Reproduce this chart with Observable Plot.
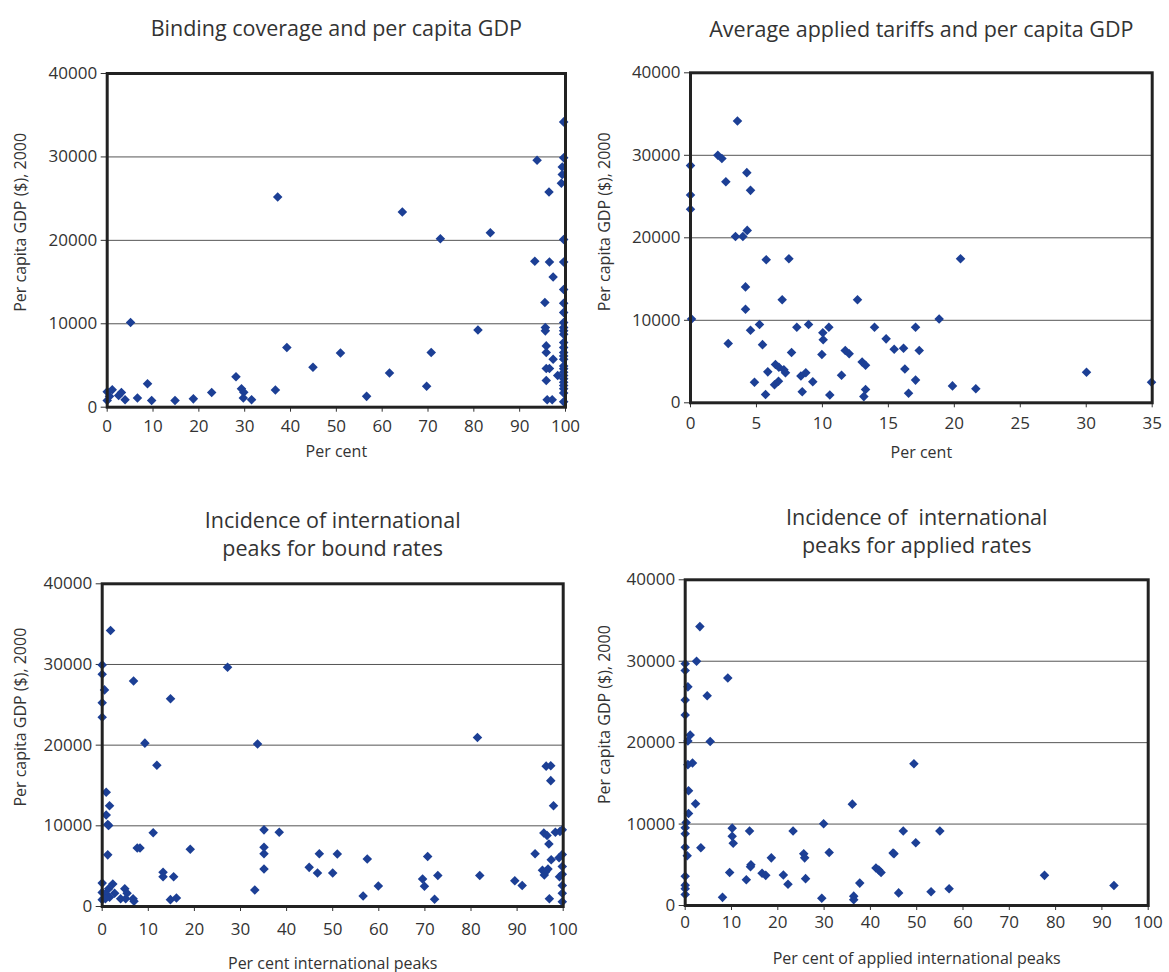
<!DOCTYPE html>
<html><head><meta charset="utf-8">
<script src="https://cdn.jsdelivr.net/npm/d3@7"></script>
<script src="https://cdn.jsdelivr.net/npm/@observablehq/plot@0.6"></script>
<style>
body{margin:0;background:#fff;}
#wrap{position:relative;width:1169px;height:972px;font-family:"Open Sans",sans-serif;}
.panel{position:absolute;}
</style></head><body><div id="wrap"></div>
<script>
// Panel 1: Binding coverage (%) vs per capita GDP
const bindX = [99.6,93.8,99.6,99.3,99.3,99.1,96.4,37.2,64.4,72.7,83.6,99.6,93.3,96.5,99.6,97.3,99.6,95.5,99.6,99.6,5.1,99.6,95.6,95.6,99.6,99.6,80.9,99.6,99.6,39.2,99.6,50.9,70.7,95.8,95.8,99.6,99.6,97.3,99.6,44.9,95.8,96.5,99.6,99.6,61.6,99.6,28.1,98.3,99.6,95.8,99.6,69.7,99.6,8.8,36.7,99.6,22.8,29.3,29.8,99.6,29.7,31.5,56.6,18.8,14.8,9.7,6.6,3.9,3.1,1.1,0,0,96.0,97.1,99.6,99.6,0.5,2.5];
const bindY = [34200,29600,29900,28800,27900,26850,25800,25200,23400,20200,20900,20100,17500,17400,17400,15600,14100,12550,12450,11350,10150,10150,9550,9150,9550,9150,9250,8750,7750,7150,7150,6500,6550,7350,6550,6550,6150,5750,5750,4800,4650,4650,4950,4600,4100,4200,3650,3800,3800,3200,3400,2500,3000,2800,2050,2600,1750,2200,1800,2200,1100,900,1300,1000,800,800,1100,900,1750,2100,1850,800,900,900,650,1700,1300,1400];

// Panel 2: Average applied tariffs (%) vs per capita GDP
const tariffX = [3.56,2.07,2.38,0,4.27,2.68,4.55,0,0,3.41,3.97,4.30,5.74,7.46,20.47,4.17,6.95,12.66,4.17,0.08,18.85,5.23,4.55,8.06,8.95,10.03,10.49,10.06,13.95,17.06,14.83,2.86,5.46,7.66,9.96,11.73,12.03,15.44,16.15,17.34,13.01,13.27,6.44,6.70,7.08,7.20,5.86,16.25,11.45,30.02,8.37,8.74,4.85,6.37,6.67,9.27,17.06,19.86,21.63,34.95,8.47,5.69,10.56,13.27,13.14,16.53];
const tariffY = [34150,30000,29600,28750,27900,26800,25750,25200,23450,20150,20150,20900,17350,17450,17450,14050,12500,12500,11350,10150,10150,9500,8800,9150,9500,8500,9150,7650,9150,9150,7750,7200,7050,6100,5850,6350,5950,6500,6600,6350,4950,4550,4650,4300,4000,3650,3750,4100,3350,3700,3250,3650,2500,2200,2600,2550,2750,2050,1700,2500,1350,1000,950,1600,750,1150];

// Panel 3: Incidence of international peaks for bound rates
const boundPeakX = [1.81,0,0,6.80,0.5,0,14.82,0,27.19,9.26,33.7,81.4,11.86,96.3,97.3,97.3,97.9,0.87,1.59,0.87,1.2,1.4,11.06,35.1,38.4,95.8,96.5,96.9,98.3,99.3,99.8,7.6,8.2,19.1,35.1,35.1,1.2,47.1,51.0,57.5,70.6,93.9,97.4,99.1,99.8,35.1,44.9,46.7,50.0,13.2,13.2,15.5,72.8,81.9,69.5,69.9,89.5,91.1,95.5,95.9,96.7,96.2,99.2,99.8,99.8,99.8,99.8,99.8,97.0,33.1,59.9,56.6,72.1,14.8,16.1,0,0,0,0.7,1.4,2.3,1.6,2.7,4.0,4.9,5.4,5.1,6.7,6.9,0.7];
const boundPeakY = [34200,29950,28800,27950,26850,25250,25750,23450,29650,20250,20150,20950,17500,17400,17450,15600,12500,14150,12500,11350,10150,10050,9150,9500,9200,9100,8800,7750,9200,9300,9500,7250,7250,7100,7350,6550,6400,6550,6500,5900,6200,6550,5800,6050,6450,4650,4850,4150,4150,4250,3700,3700,3850,3850,3400,2500,3200,2600,4500,3900,4650,4300,3700,4000,4950,2600,1650,600,950,2050,2550,1300,900,850,1050,2900,850,1750,1550,2200,2800,1150,1650,950,2200,1650,950,950,650,950];

// Panel 4: Incidence of international peaks for applied rates
const appliedPeakX = [3.17,0,0,2.45,9.2,0.58,4.75,0,0,1.08,0.58,5.4,0.58,1.58,49.4,0.72,2.23,36.1,0.72,0.2,29.9,0,0,10.15,10.15,10.37,13.9,23.3,47.1,55.0,49.8,0,3.38,0.43,31.1,44.9,45.1,25.6,25.8,18.6,14.2,14.1,41.2,41.8,42.3,9.6,16.6,17.4,21.2,77.6,13.2,26.0,22.2,37.7,92.6,57.0,53.1,46.1,0,0,0,0,8.06,29.5,36.4,36.4];
const appliedPeakY = [34250,29700,28850,30000,27950,26850,25750,25250,23400,20950,20200,20150,17300,17500,17400,14100,12500,12450,11300,10200,10050,9550,8800,9500,8500,7650,9150,9150,9150,9150,7700,7150,7100,6100,6500,6450,6350,6350,5850,5850,5000,4750,4600,4350,4050,4050,3950,3700,3750,3700,3150,3300,2600,2750,2450,2050,1700,1550,3600,2500,2050,1350,1000,900,1150,700];

const yTicks = [0, 10000, 20000, 30000, 40000];
const xTicks100 = [0, 10, 20, 30, 40, 50, 60, 70, 80, 90, 100];
const xTicks35 = [0, 5, 10, 15, 20, 25, 30, 35];
const titles = [
  "Binding coverage and per capita GDP",
  "Average applied tariffs and per capita GDP",
  "Incidence of international\npeaks for bound rates",
  "Incidence of  international\npeaks for applied rates"
];
const xLabels = ["Per cent", "Per cent", "Per cent international peaks", "Per cent of applied international peaks"];
const yLabel = "Per capita GDP ($), 2000";

const FONT = '"Open Sans", sans-serif';
const TEXT = "#333";

function panel(cfg) {
  const {xs, ys, xDomain, xTicks, title, xLabel, box, frame, titleDy, xLabelDy, yLabelDx, yLabelDy, xTickPad} = cfg;
  const data = xs.map((x, i) => ({x, y: ys[i]}));
  const chart = Plot.plot({
    width: box.w, height: box.h,
    marginLeft: frame.l - box.x, marginTop: frame.t - box.y,
    marginRight: box.x + box.w - frame.r, marginBottom: box.y + box.h - frame.b,
    style: {fontFamily: FONT, fontSize: "16px", color: TEXT, background: "transparent", overflow: "visible"},
    x: {domain: xDomain, axis: null},
    y: {domain: [0, 40000], axis: null},
    marks: [
      Plot.ruleY(yTicks.slice(1, -1), {stroke: "#555", strokeWidth: 1}),
      Plot.axisX(xTicks, {tickSize: 5, tickPadding: xTickPad, label: null, fontSize: 17, tickFormat: d => String(d)}),
      Plot.axisY(yTicks, {tickSize: 6, tickPadding: 4, label: null, fontSize: 17, tickFormat: d => String(d)}),
      Plot.dot(data, {x: "x", y: "y", symbol: "diamond2", r: 4.3, fill: "#1c3f95", stroke: "none"}),
      Plot.frame({stroke: "#222", strokeWidth: 3}),
      Plot.text([title], {text: d => d, frameAnchor: "top", dy: titleDy, fontSize: 21.5, lineHeight: 1.3, lineAnchor: "middle", fill: TEXT}),
      Plot.text([xLabel], {text: d => d, frameAnchor: "bottom", dy: xLabelDy, fontSize: 16, lineAnchor: "middle", fill: TEXT}),
      Plot.text([yLabel], {text: d => d, frameAnchor: "left", dx: yLabelDx, dy: yLabelDy, rotate: -90, textAnchor: "middle", fontSize: 16, lineAnchor: "middle", fill: TEXT})
    ]
  });
  const div = document.createElement("div");
  div.className = "panel";
  div.style.left = box.x + "px";
  div.style.top = box.y + "px";
  div.appendChild(chart);
  document.getElementById("wrap").appendChild(div);
}

panel({xs: bindX, ys: bindY, xDomain: [0, 100], xTicks: xTicks100, title: titles[0], xLabel: xLabels[0],
  box: {x: 0, y: 0, w: 584, h: 486}, frame: {l: 106.7, r: 565, t: 73, b: 406.7},
  titleDy: -46, xLabelDy: 45, yLabelDx: -86.7, yLabelDy: -18, xTickPad: 8});
panel({xs: tariffX, ys: tariffY, xDomain: [0, 35], xTicks: xTicks35, title: titles[1], xLabel: xLabels[1],
  box: {x: 584, y: 0, w: 585, h: 486}, frame: {l: 690, r: 1151.7, t: 72.3, b: 402.3},
  titleDy: -45, xLabelDy: 50, yLabelDx: -86, yLabelDy: -16, xTickPad: 9});
panel({xs: boundPeakX, ys: boundPeakY, xDomain: [0, 100], xTicks: xTicks100, title: titles[2], xLabel: xLabels[2],
  box: {x: 0, y: 486, w: 584, h: 486}, frame: {l: 101.7, r: 562.7, t: 583.3, b: 906},
  titleDy: -51, xLabelDy: 57, yLabelDx: -81.7, yLabelDy: -28, xTickPad: 11});
panel({xs: appliedPeakX, ys: appliedPeakY, xDomain: [0, 100], xTicks: xTicks100, title: titles[3], xLabel: xLabels[3],
  box: {x: 584, y: 486, w: 585, h: 486}, frame: {l: 684.7, r: 1147.7, t: 579.3, b: 905},
  titleDy: -50, xLabelDy: 53, yLabelDx: -80.7, yLabelDy: -28, xTickPad: 5});
</script>
</body></html>
